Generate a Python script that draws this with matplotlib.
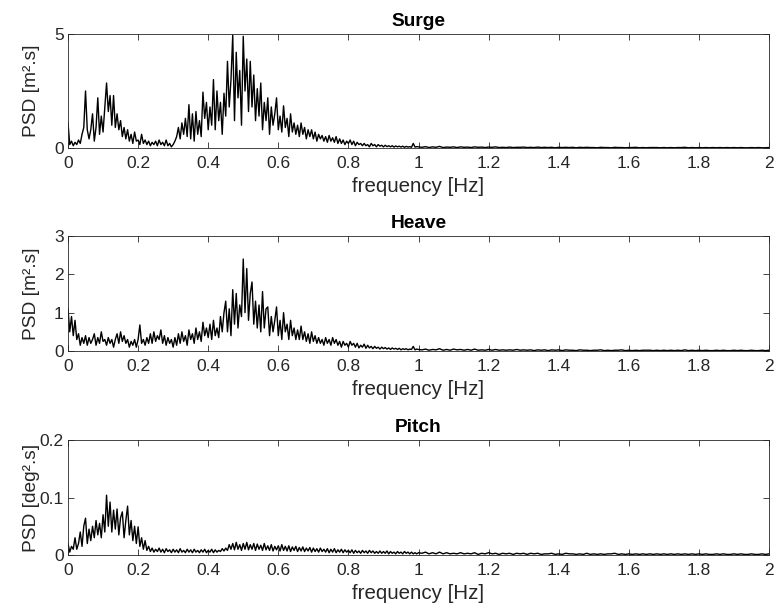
import numpy as np
import matplotlib
matplotlib.use("Agg")
import matplotlib.pyplot as plt

plt.rcParams['font.family'] = ['Liberation Sans', 'DejaVu Sans']

# frequency grid: 0.005 Hz steps up to 1 Hz, 0.01 Hz steps above
freq_low = [round(0.005 * i, 3) for i in range(201)]
freq_high = [round(1 + 0.01 * i, 2) for i in range(1, 101)]
freq = np.array(freq_low + freq_high)

surge_low = [
    1.1, 0.15, 0.3, 0.1, 0.25, 0.15, 0.35, 0.2, 0.6, 0.9,
    2.5, 0.8, 0.4, 0.8, 1.5, 0.3, 0.9, 2.2, 0.6, 1.4,
    0.7, 1.8, 2.85, 1.6, 2.3, 1.0, 2.3, 0.9, 1.5, 0.8,
    1.2, 0.5, 0.9, 0.4, 0.8, 0.3, 0.6, 0.2, 0.7, 0.3,
    0.35, 0.15, 0.6, 0.2, 0.35, 0.15, 0.3, 0.1, 0.25, 0.15,
    0.3, 0.1, 0.35, 0.15, 0.25, 0.1, 0.35, 0.1, 0.2, 0.05,
    0.15, 0.3, 0.5, 0.9, 0.4, 1.1, 0.6, 1.3, 0.5, 1.9,
    0.4, 1.5, 0.3, 1.6, 0.6, 1.2, 0.5, 2.45, 1.3, 2.0,
    0.8, 1.8, 1.0, 3.0, 0.8, 2.5, 1.2, 2.0, 0.6, 2.4,
    1.4, 3.8, 1.8, 3.0, 4.95, 1.2, 4.2, 2.2, 3.4, 1.0,
    4.9, 2.5, 3.9, 1.6, 3.8, 1.8, 3.2, 1.2, 2.6, 1.4,
    2.85, 0.8, 2.0, 1.2, 2.2, 0.6, 1.8, 1.0, 1.5, 2.2,
    0.8, 1.4, 0.7, 1.85, 0.9, 1.3, 0.5, 1.5, 0.7, 1.1,
    0.6, 1.0, 0.5, 1.1, 0.6, 0.9, 0.4, 0.8, 0.5, 0.8,
    0.4, 0.7, 0.3, 0.6, 0.4, 0.55, 0.3, 0.5, 0.25, 0.55,
    0.3, 0.45, 0.25, 0.5, 0.2, 0.4, 0.2, 0.35, 0.15, 0.3,
    0.2, 0.35, 0.15, 0.3, 0.1, 0.25, 0.15, 0.2, 0.1, 0.2,
    0.1, 0.15, 0.05, 0.2, 0.1, 0.15, 0.05, 0.15, 0.08, 0.12,
    0.05, 0.12, 0.06, 0.1, 0.05, 0.1, 0.04, 0.09, 0.05, 0.08,
    0.04, 0.08, 0.03, 0.07, 0.04, 0.06, 0.03, 0.2, 0.04, 0.06,
    0.05,
]
surge_high = [
    0.03, 0.06, 0.02, 0.05, 0.03, 0.07, 0.02, 0.04, 0.03, 0.05,
    0.02, 0.05, 0.03, 0.04, 0.02, 0.05, 0.03, 0.04, 0.02, 0.04,
    0.03, 0.05, 0.02, 0.03, 0.02, 0.04, 0.02, 0.03, 0.03, 0.04,
    0.02, 0.03, 0.02, 0.04, 0.02, 0.03, 0.02, 0.03, 0.01, 0.03,
    0.02, 0.03, 0.02, 0.03, 0.01, 0.03, 0.02, 0.03, 0.02, 0.02,
    0.01, 0.03, 0.02, 0.02, 0.01, 0.03, 0.02, 0.02, 0.01, 0.02,
    0.02, 0.03, 0.01, 0.02, 0.01, 0.02, 0.02, 0.02, 0.01, 0.02,
    0.01, 0.02, 0.01, 0.02, 0.02, 0.03, 0.01, 0.02, 0.01, 0.02,
    0.01, 0.02, 0.01, 0.02, 0.01, 0.02, 0.01, 0.02, 0.01, 0.02,
    0.01, 0.02, 0.01, 0.01, 0.02, 0.01, 0.02, 0.01, 0.01, 0.02,
]

heave_low = [
    1.1, 0.5, 0.9, 0.4, 0.8, 0.3, 0.45, 0.15, 0.35, 0.2,
    0.4, 0.15, 0.35, 0.2, 0.3, 0.45, 0.15, 0.35, 0.2, 0.5,
    0.25, 0.3, 0.15, 0.35, 0.2, 0.3, 0.1, 0.3, 0.45, 0.2,
    0.5, 0.25, 0.4, 0.2, 0.3, 0.1, 0.25, 0.15, 0.3, 0.1,
    0.3, 0.68, 0.2, 0.3, 0.15, 0.35, 0.2, 0.45, 0.2, 0.5,
    0.25, 0.4, 0.3, 0.55, 0.2, 0.4, 0.15, 0.35, 0.2, 0.3,
    0.1, 0.35, 0.15, 0.45, 0.2, 0.5, 0.25, 0.4, 0.15, 0.55,
    0.3, 0.45, 0.2, 0.6, 0.3, 0.5, 0.25, 0.75, 0.4, 0.6,
    0.35, 0.7, 0.3, 0.8, 0.4, 0.6, 0.35, 0.9, 0.5, 1.0,
    1.3, 0.5, 1.1, 0.4, 1.6, 0.7, 1.5, 0.6, 1.2, 0.9,
    2.4, 1.0, 2.15, 0.8, 1.5, 1.8, 0.7, 1.3, 0.6, 1.2,
    0.5, 1.55, 0.6, 1.1, 1.15, 0.4, 0.9, 0.5, 0.8, 1.15,
    0.4, 0.8, 0.3, 1.0, 0.5, 0.7, 0.3, 0.8, 0.4, 0.6,
    0.3, 0.55, 0.3, 0.65, 0.3, 0.5, 0.25, 0.45, 0.2, 0.5,
    0.25, 0.4, 0.2, 0.35, 0.2, 0.3, 0.15, 0.35, 0.2, 0.3,
    0.15, 0.35, 0.2, 0.3, 0.15, 0.25, 0.1, 0.25, 0.15, 0.2,
    0.1, 0.25, 0.15, 0.2, 0.1, 0.2, 0.08, 0.15, 0.1, 0.18,
    0.07, 0.15, 0.08, 0.12, 0.06, 0.12, 0.07, 0.1, 0.05, 0.1,
    0.06, 0.09, 0.05, 0.08, 0.04, 0.08, 0.05, 0.07, 0.04, 0.07,
    0.03, 0.06, 0.04, 0.06, 0.03, 0.05, 0.04, 0.12, 0.03, 0.05,
    0.04,
]
heave_high = [
    0.03, 0.05, 0.02, 0.04, 0.03, 0.06, 0.02, 0.04, 0.02, 0.05,
    0.03, 0.04, 0.02, 0.04, 0.02, 0.05, 0.02, 0.03, 0.02, 0.04,
    0.02, 0.04, 0.02, 0.03, 0.02, 0.03, 0.02, 0.04, 0.02, 0.03,
    0.02, 0.03, 0.01, 0.03, 0.02, 0.03, 0.01, 0.03, 0.02, 0.03,
    0.01, 0.03, 0.02, 0.02, 0.01, 0.03, 0.02, 0.02, 0.01, 0.02,
    0.02, 0.03, 0.01, 0.02, 0.01, 0.02, 0.02, 0.03, 0.01, 0.02,
    0.01, 0.02, 0.01, 0.02, 0.02, 0.02, 0.01, 0.02, 0.01, 0.02,
    0.01, 0.02, 0.01, 0.02, 0.01, 0.03, 0.01, 0.02, 0.01, 0.02,
    0.01, 0.02, 0.01, 0.01, 0.02, 0.01, 0.02, 0.01, 0.01, 0.02,
    0.01, 0.02, 0.01, 0.01, 0.02, 0.01, 0.01, 0.02, 0.01, 0.02,
]

pitch_low = [
    0.02, 0.005, 0.015, 0.01, 0.03, 0.01, 0.02, 0.04, 0.015, 0.05,
    0.064, 0.02, 0.045, 0.025, 0.05, 0.03, 0.06, 0.035, 0.055, 0.03,
    0.07, 0.04, 0.104, 0.05, 0.092, 0.04, 0.078, 0.045, 0.08, 0.035,
    0.065, 0.075, 0.03, 0.06, 0.085, 0.035, 0.06, 0.025, 0.05, 0.02,
    0.049, 0.015, 0.03, 0.01, 0.025, 0.008, 0.015, 0.006, 0.012, 0.005,
    0.01, 0.006, 0.012, 0.005, 0.01, 0.004, 0.011, 0.006, 0.009, 0.004,
    0.01, 0.005, 0.009, 0.004, 0.011, 0.005, 0.008, 0.004, 0.01, 0.005,
    0.009, 0.004, 0.01, 0.005, 0.008, 0.004, 0.009, 0.005, 0.01, 0.004,
    0.008, 0.005, 0.01, 0.004, 0.009, 0.005, 0.008, 0.006, 0.011, 0.007,
    0.012, 0.008, 0.018, 0.01, 0.02, 0.009, 0.022, 0.01, 0.018, 0.008,
    0.02, 0.01, 0.022, 0.009, 0.018, 0.01, 0.02, 0.008, 0.019, 0.01,
    0.017, 0.008, 0.02, 0.009, 0.016, 0.008, 0.018, 0.007, 0.015, 0.009,
    0.016, 0.007, 0.018, 0.008, 0.015, 0.007, 0.016, 0.006, 0.014, 0.008,
    0.015, 0.006, 0.013, 0.007, 0.014, 0.006, 0.012, 0.007, 0.013, 0.005,
    0.012, 0.006, 0.011, 0.005, 0.012, 0.006, 0.01, 0.005, 0.011, 0.004,
    0.01, 0.005, 0.011, 0.004, 0.009, 0.005, 0.01, 0.004, 0.009, 0.005,
    0.008, 0.004, 0.009, 0.003, 0.008, 0.004, 0.007, 0.003, 0.008, 0.004,
    0.007, 0.003, 0.008, 0.004, 0.007, 0.003, 0.006, 0.003, 0.007, 0.003,
    0.006, 0.003, 0.007, 0.002, 0.006, 0.003, 0.005, 0.002, 0.006, 0.003,
    0.005, 0.002, 0.006, 0.003, 0.005, 0.002, 0.005, 0.002, 0.004, 0.002,
    0.004,
]
pitch_high = [
    0.003, 0.005, 0.002, 0.004, 0.002, 0.005, 0.002, 0.004, 0.002, 0.003,
    0.002, 0.004, 0.002, 0.003, 0.002, 0.004, 0.001, 0.003, 0.002, 0.004,
    0.002, 0.003, 0.001, 0.003, 0.002, 0.003, 0.001, 0.003, 0.002, 0.003,
    0.001, 0.003, 0.002, 0.003, 0.001, 0.002, 0.002, 0.003, 0.001, 0.002,
    0.001, 0.003, 0.002, 0.002, 0.001, 0.002, 0.001, 0.003, 0.001, 0.002,
    0.001, 0.002, 0.001, 0.002, 0.002, 0.003, 0.001, 0.002, 0.001, 0.002,
    0.001, 0.002, 0.001, 0.002, 0.001, 0.002, 0.001, 0.002, 0.001, 0.002,
    0.001, 0.002, 0.001, 0.002, 0.001, 0.002, 0.001, 0.002, 0.001, 0.002,
    0.001, 0.002, 0.001, 0.001, 0.002, 0.001, 0.002, 0.001, 0.001, 0.002,
    0.001, 0.002, 0.001, 0.001, 0.002, 0.001, 0.001, 0.002, 0.001, 0.002,
]

titles = ["Surge", "Heave", "Pitch"]
ylabels = ["PSD [m\u00b2.s]", "PSD [m\u00b2.s]", "PSD [deg\u00b2.s]"]
ylims = [5, 3, 0.2]
yticks = [[0, 5], [0, 1, 2, 3], [0, 0.1, 0.2]]
yticklabels = [["0", "5"], ["0", "1", "2", "3"], ["0", "0.1", "0.2"]]
xticks = [0, 0.2, 0.4, 0.6, 0.8, 1, 1.2, 1.4, 1.6, 1.8, 2]
xticklabels = ["0", "0.2", "0.4", "0.6", "0.8", "1", "1.2", "1.4", "1.6", "1.8", "2"]

series = [surge_low + surge_high, heave_low + heave_high, pitch_low + pitch_high]

W, H = 779, 615
fig = plt.figure(figsize=(W / 100, H / 100), dpi=100)
boxes = [(34, 148), (236, 351), (440, 555)]
grey = "#262626"

for i in range(3):
    top, bot = boxes[i]
    ax = fig.add_axes([68 / W, 1 - bot / H, 701 / W, (bot - top) / H])
    ax.plot(freq, series[i], color="black", lw=1.0)
    ax.set_xlim(0, 2)
    ax.set_ylim(0, ylims[i])
    ax.set_xticks(xticks)
    ax.set_xticklabels(xticklabels)
    ax.set_yticks(yticks[i])
    ax.set_yticklabels(yticklabels[i])
    ax.tick_params(direction="in", top=True, right=True, length=4, width=0.6,
                   colors=grey, labelsize=12.5)
    ax.tick_params(axis="x", pad=6)
    ax.tick_params(axis="y", pad=3)
    for s in ax.spines.values():
        s.set_color(grey)
        s.set_linewidth(0.6)
    ax.set_title(titles[i], fontsize=13.8, fontweight="bold", pad=6)
    ax.set_xlabel("frequency [Hz]", fontsize=14.8, color=grey, labelpad=4)
    ax.set_ylabel(ylabels[i], fontsize=13.8, color=grey)
    ax.yaxis.set_label_coords(-28 / 701, 0.5)

fig.savefig("out.png", dpi=100)
